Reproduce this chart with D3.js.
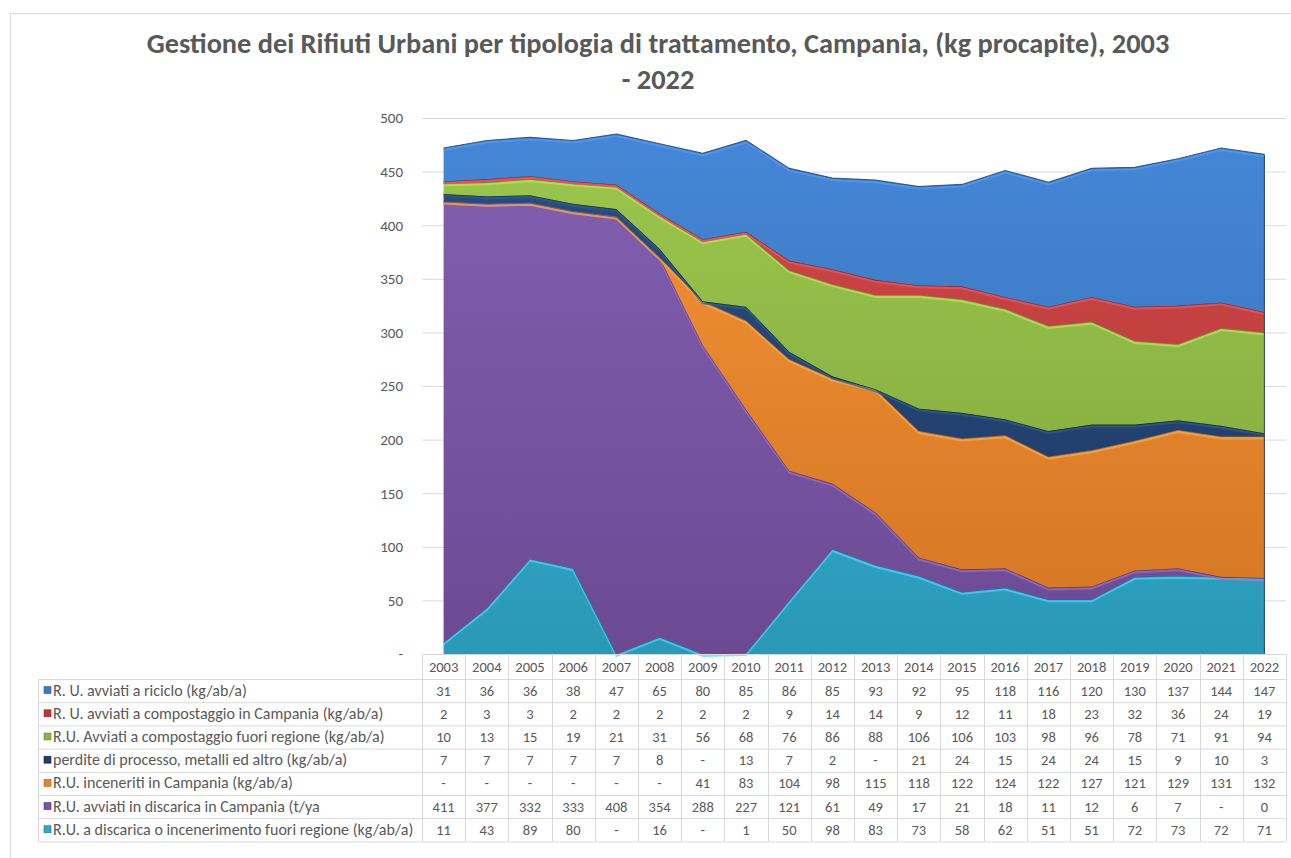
<!DOCTYPE html>
<html>
<head>
<meta charset="utf-8">
<script src="https://cdn.jsdelivr.net/npm/d3@7"></script>
<style>
  body { margin: 0; background: #fff; }
  text { font-family: Carlito, Calibri, "Liberation Sans Narrow", Lato, sans-serif; fill: #595959; }
</style>
</head>
<body>
<div id="chart"></div>
<script>
const years = [2003, 2004, 2005, 2006, 2007, 2008, 2009, 2010, 2011, 2012,
               2013, 2014, 2015, 2016, 2017, 2018, 2019, 2020, 2021, 2022];

// null = "-" in the data table
const riciclo       = [31, 36, 36, 38, 47, 65, 80, 85, 86, 85, 93, 92, 95, 118, 116, 120, 130, 137, 144, 147];
const compCampania  = [2, 3, 3, 2, 2, 2, 2, 2, 9, 14, 14, 9, 12, 11, 18, 23, 32, 36, 24, 19];
const compFuori     = [10, 13, 15, 19, 21, 31, 56, 68, 76, 86, 88, 106, 106, 103, 98, 96, 78, 71, 91, 94];
const perdite       = [7, 7, 7, 7, 7, 8, null, 13, 7, 2, null, 21, 24, 15, 24, 24, 15, 9, 10, 3];
const inceneriti    = [null, null, null, null, null, null, 41, 83, 104, 98, 115, 118, 122, 124, 122, 127, 121, 129, 131, 132];
const discCampania  = [411, 377, 332, 333, 408, 354, 288, 227, 121, 61, 49, 17, 21, 18, 11, 12, 6, 7, null, 0];
const discFuori     = [11, 43, 89, 80, null, 16, null, 1, 50, 98, 83, 73, 58, 62, 51, 51, 72, 73, 72, 71];

const seriesNames = [
  "R. U. avviati a riciclo (kg/ab/a)",
  "R. U. avviati a compostaggio in Campania (kg/ab/a)",
  "R.U.  Avviati a compostaggio fuori regione (kg/ab/a)",
  "perdite di processo, metalli ed altro (kg/ab/a)",
  "R.U. inceneriti in Campania (kg/ab/a)",
  "R.U. avviati in discarica in Campania (t/ya",
  "R.U. a discarica o incenerimento fuori regione (kg/ab/a)"
];
const seriesValues = [riciclo, compCampania, compFuori, perdite, inceneriti, discCampania, discFuori];
const seriesColors = ["#3a77c4", "#c0393a", "#8bb540", "#1f3d6b", "#ea8227", "#7852a3", "#2fa9cc"];
const seriesLight  = ["#4588d8", "#d24a4a", "#9cc94e", "#2a4f85", "#f69436", "#8460b3", "#3dbddd"];
const seriesDark   = ["#2a5a9a", "#8e2626", "#68892c", "#12284a", "#b7621a", "#55397a", "#1d6f8c"];

const yTicks = [0, 50, 100, 150, 200, 250, 300, 350, 400, 450, 500];
const title1 = "Gestione dei Rifiuti Urbani per tipologia di trattamento, Campania, (kg procapite), 2003";
const title2 = "- 2022";

const W = 1291, H = 858;
const plot = {left: 422, right: 1286, top: 118, bottom: 654};
const table = {left: 38, headerH: 25, rowH: 23.2};

const svg = d3.select("#chart")
  .append("svg")
    .attr("width", W)
    .attr("height", H);

// chart border
svg.append("rect")
  .attr("x", 10.5).attr("y", 13.5)
  .attr("width", W + 20).attr("height", H + 20)
  .attr("fill", "none")
  .attr("stroke", "#d9d9d9");

// title
const t1 = svg.append("text")
  .attr("x", 658).attr("y", 53)
  .attr("text-anchor", "middle")
  .style("font-weight", "bold")
  .style("font-size", "27px")
  .text(title1);
const fitSize = 27 * 1023 / t1.node().getComputedTextLength();
t1.style("font-size", fitSize + "px");
svg.append("text")
  .attr("x", 658).attr("y", 89)
  .attr("text-anchor", "middle")
  .style("font-weight", "bold")
  .style("font-size", fitSize + "px")
  .text(title2);

// scales
const x = d3.scaleBand()
  .domain(years)
  .range([plot.left, plot.right]);
const xc = d => x(d) + x.bandwidth() / 2;

const y = d3.scaleLinear()
  .domain([0, 500])
  .range([plot.bottom, plot.top]);

// gridlines + y axis
const yAxis = svg.append("g")
  .attr("transform", `translate(${plot.left},0)`)
  .call(d3.axisLeft(y)
    .tickValues(yTicks)
    .tickSize(-(plot.right - plot.left))
    .tickPadding(19)
    .tickFormat(d => d === 0 ? "-" : d));
yAxis.select(".domain").remove();
yAxis.selectAll("line").attr("stroke", "#d9d9d9");
yAxis.selectAll("text")
  .style("font-size", "15px")
  .attr("fill", "#595959");

// stacked areas (bottom: fuori regione ... top: riciclo)
const rows = years.map((yr, i) => {
  const r = {year: yr};
  seriesValues.forEach((s, k) => r["s" + k] = s[i] == null ? 0 : s[i]);
  return r;
});
const keys = d3.range(seriesValues.length).map(k => "s" + k).reverse();
const stack = d3.stack().keys(keys)(rows);

const defs = svg.append("defs");
seriesColors.forEach((c, k) => {
  const g = defs.append("linearGradient")
    .attr("id", "grad" + k)
    .attr("gradientUnits", "userSpaceOnUse")
    .attr("x1", 0).attr("y1", plot.top).attr("x2", 0).attr("y2", plot.bottom);
  g.append("stop").attr("offset", "0%").attr("stop-color", seriesLight[k]);
  g.append("stop").attr("offset", "100%").attr("stop-color", d3.color(c).darker(0.3));
});

const area = d3.area()
  .x(d => xc(d.data.year))
  .y0(d => y(d[0]))
  .y1(d => y(d[1]));
const topLine = d3.line()
  .x(d => xc(d.data.year))
  .y(d => y(d[1]));

const layers = svg.append("g").selectAll("g")
  .data(stack)
  .join("g");

layers.append("path")
  .attr("d", area)
  .attr("fill", d => "url(#grad" + d.key.slice(1) + ")");

layers.append("path")
  .attr("d", d => topLine(d))
  .attr("transform", "translate(0,2)")
  .attr("fill", "none")
  .attr("stroke", d => d3.color(seriesLight[+d.key.slice(1)]).brighter(0.4))
  .attr("stroke-width", 2)
  .attr("opacity", 0.7);

layers.append("path")
  .attr("d", d => topLine(d))
  .attr("fill", "none")
  .attr("stroke", d => seriesDark[+d.key.slice(1)])
  .attr("stroke-width", 1.2);

// right edge
svg.append("line")
  .attr("x1", xc(2022)).attr("x2", xc(2022))
  .attr("y1", y(d3.sum(seriesValues, s => s[s.length - 1] || 0))).attr("y2", plot.bottom)
  .attr("stroke", "#2b3f5c")
  .attr("stroke-width", 1);

// data table
const tbl = svg.append("g");
const rowTop = i => plot.bottom + table.headerH + i * table.rowH;
const tableBottom = rowTop(seriesValues.length);
const gridCol = "#d9d9d9";

// horizontal lines
tbl.append("line")
  .attr("x1", plot.left).attr("x2", plot.right)
  .attr("y1", plot.bottom + 0.5).attr("y2", plot.bottom + 0.5)
  .attr("stroke", gridCol);
d3.range(seriesValues.length + 1).forEach(i => {
  tbl.append("line")
    .attr("x1", table.left).attr("x2", plot.right)
    .attr("y1", rowTop(i) + 0.5).attr("y2", rowTop(i) + 0.5)
    .attr("stroke", gridCol);
});
// vertical lines
tbl.append("line")
  .attr("x1", table.left + 0.5).attr("x2", table.left + 0.5)
  .attr("y1", rowTop(0)).attr("y2", tableBottom)
  .attr("stroke", gridCol);
years.concat(["end"]).forEach((yr, i) => {
  const xx = Math.round(plot.left + i * x.bandwidth()) + 0.5;
  tbl.append("line")
    .attr("x1", xx).attr("x2", xx)
    .attr("y1", plot.bottom).attr("y2", tableBottom)
    .attr("stroke", gridCol);
});

// header
tbl.selectAll(".yr")
  .data(years)
  .join("text")
    .attr("class", "yr")
    .attr("x", d => xc(d))
    .attr("y", plot.bottom + table.headerH / 2 + 5)
    .attr("text-anchor", "middle")
    .style("font-size", "14.5px")
    .text(d => d);

// series rows
const labels = [];
seriesValues.forEach((s, k) => {
  const cy = rowTop(k) + table.rowH / 2;
  tbl.append("rect")
    .attr("x", 44).attr("y", cy - 4)
    .attr("width", 7).attr("height", 7)
    .attr("fill", seriesColors[k])
    .attr("stroke", seriesDark[k])
    .attr("stroke-width", 0.6);
  labels.push(tbl.append("text")
    .attr("x", 53).attr("y", cy + 5)
    .style("font-size", "14.5px")
    .text(seriesNames[k]));
  tbl.selectAll(".v" + k)
    .data(s)
    .join("text")
      .attr("class", "v" + k)
      .attr("x", (d, i) => xc(years[i]))
      .attr("y", cy + 5)
      .attr("text-anchor", "middle")
      .style("font-size", "14.5px")
      .text(d => d == null ? "-" : d);
});
// fit the longest label into the first column
const longest = d3.max(labels, l => l.node().getComputedTextLength());
const labelSize = Math.min(16, 14.5 * 362 / longest);
labels.forEach(l => l.style("font-size", labelSize + "px"));
</script>
</body>
</html>
